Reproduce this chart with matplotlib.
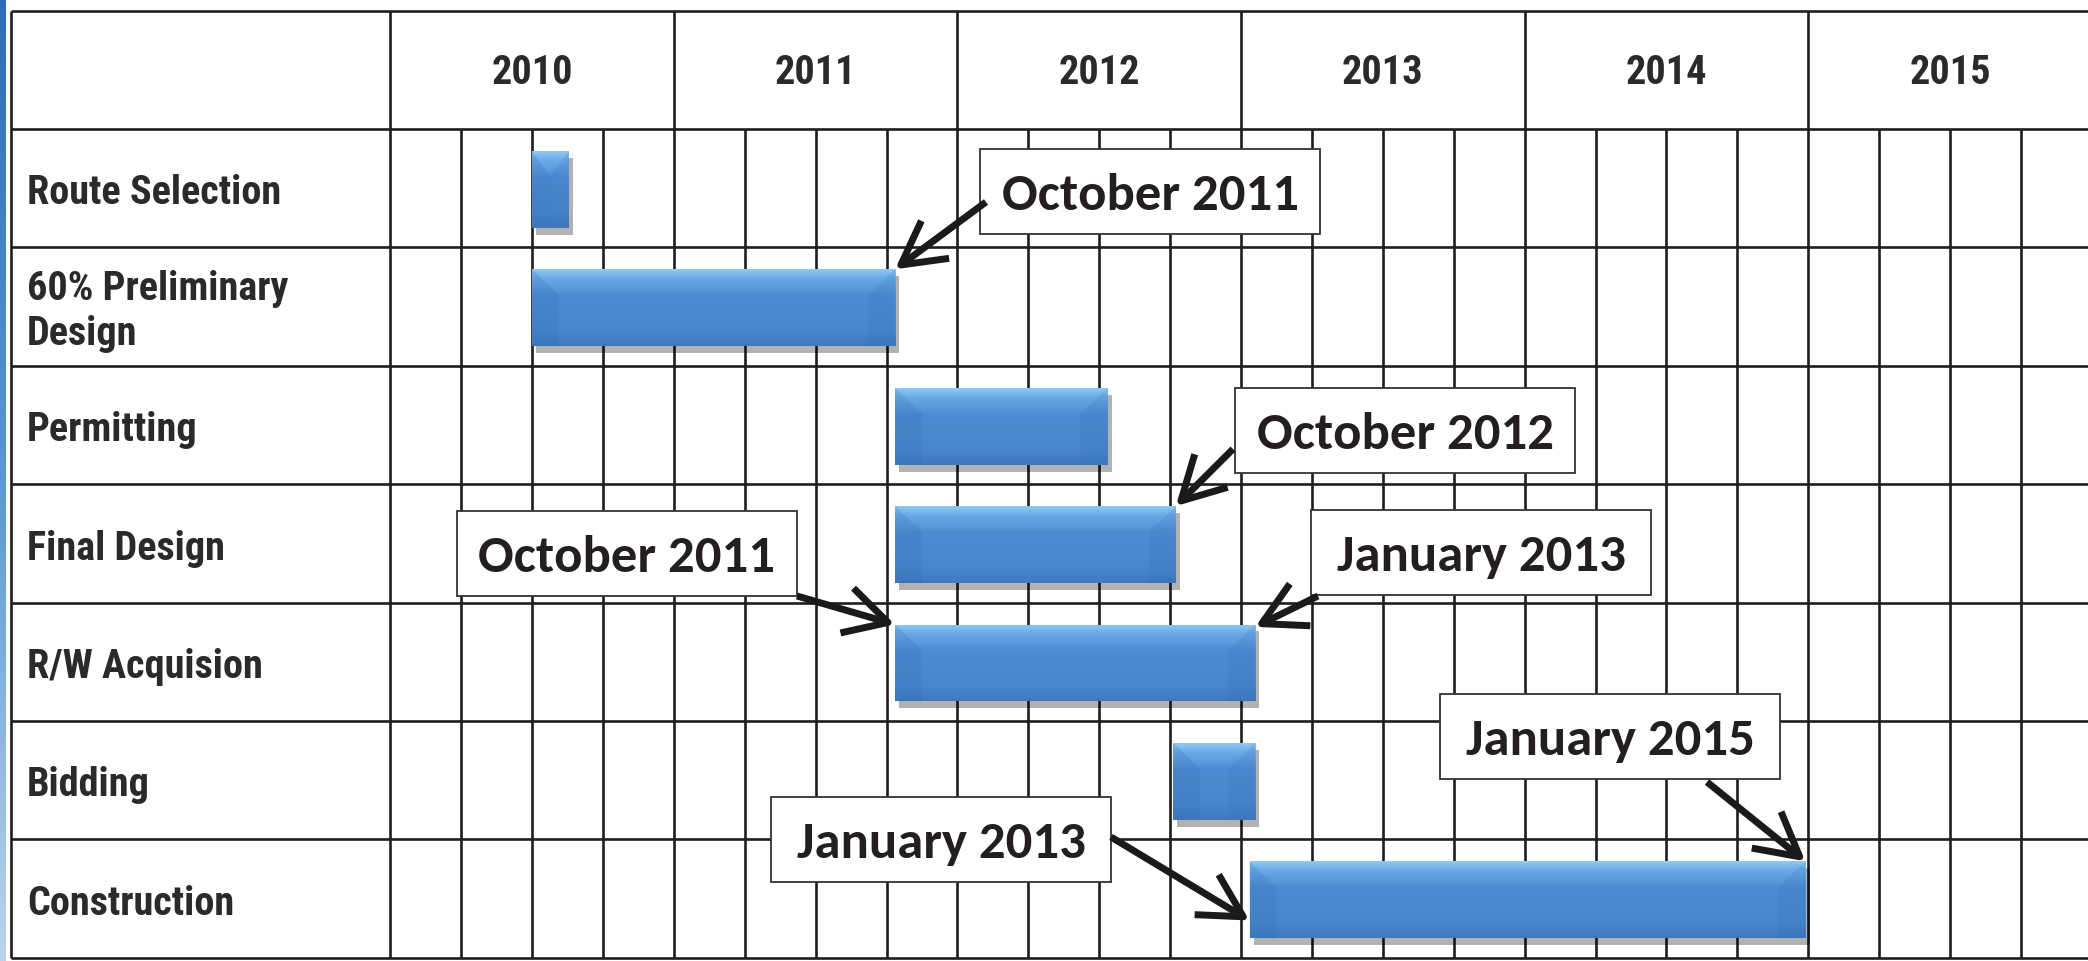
import numpy as np
import matplotlib
matplotlib.use('Agg')
import matplotlib.pyplot as plt
from matplotlib import font_manager
from matplotlib.patches import Rectangle, Polygon, FancyArrowPatch
from matplotlib.colors import LinearSegmentedColormap
import matplotlib.patheffects as pe

# ---------------- data ----------------
tasks = ["Route Selection", "60% Preliminary\nDesign", "Permitting", "Final Design",
         "R/W Acquision", "Bidding", "Construction"]
task_start = [2010.50, 2010.50, 2011.78, 2011.78, 2011.78, 2012.76, 2013.03]
task_end = [2010.63, 2011.78, 2012.53, 2012.77, 2013.05, 2013.05, 2014.99]
years = [2010, 2011, 2012, 2013, 2014, 2015]

ann_text = ["October 2011", "October 2012", "October 2011", "January 2013",
            "January 2015", "January 2013"]
ann_task = [1, 3, 4, 4, 6, 6]
ann_side = ["end", "end", "start", "end", "end", "start"]

# ---------------- layout ----------------
W, H = 2088, 962
fig = plt.figure(figsize=(W / 100, H / 100), dpi=100)
ax = fig.add_axes([0, 0, 1, 1])
ax.axis('off')

def fx(px):
    return 2010 + (px - 390.2) / 283.6

def fy(py):
    return (py - 130) / 118.4

XL, XR = fx(0), fx(W)
YT, YB = fy(0), fy(H)

avail = {f.name for f in font_manager.fontManager.ttflist}
def pick(cands):
    for c in cands:
        if c in avail:
            return c
    return 'DejaVu Sans'
cond = pick(['Roboto Condensed', 'Archivo Narrow', 'PT Sans Narrow', 'Liberation Sans Narrow'])
callout = pick(['Carlito', 'Lato', 'Open Sans'])

line_c = '#1e1e1e'
lw = 1.9
n = len(tasks)
x_left = fx(11)
table_top = -1.0
table_bot = float(n)

# horizontal lines
ax.hlines([table_top, 0] + list(range(1, n + 1)), x_left, XR, color=line_c, lw=lw, zorder=1)
# left border and label column
ax.vlines([x_left], table_top, table_bot, color=line_c, lw=lw, zorder=1)
# year lines (full height)
ax.vlines(years, table_top, table_bot, color=line_c, lw=lw, zorder=1)
# quarter lines (body only)
quarters = [y + q / 4 for y in years for q in (1, 2, 3)]
ax.vlines(quarters, 0, table_bot, color=line_c, lw=lw, zorder=1)

# year labels
for yv in years:
    ax.text(yv + 0.5, -0.48, str(yv), ha='center', va='center', fontsize=29,
            fontweight='bold', family=cond, color='#2a2a2a', zorder=2)

# task labels
for i, t in enumerate(tasks):
    ax.text(fx(27), i + 0.535, t, ha='left', va='center', fontsize=29, fontweight='bold',
            family=cond, color='#2a2a2a', linespacing=1.25, zorder=2)

# ---------------- bars ----------------
bar_off, bar_h = 0.185, 0.65
ys = [i + bar_off + bar_h / 2 for i in range(n)]
widths = [e - s for s, e in zip(task_start, task_end)]
bars = ax.barh(ys, widths, left=task_start, height=bar_h, color='#4a86cc',
               zorder=3,
               path_effects=[pe.SimplePatchShadow(offset=(3, -5), shadow_rgbFace='#000000', alpha=0.3),
                             pe.Normal()])

cmap = LinearSegmentedColormap.from_list('bev', [(0, '#8fc8f5'), (0.12, '#6aa9e6'),
                                                  (0.35, '#4d8bd2'), (0.8, '#4a86cc'),
                                                  (1, '#3f79bf')])
grad = np.linspace(0, 1, 100).reshape(-1, 1)
for b in bars:
    x0, y0, w, h = b.get_x(), b.get_y(), b.get_width(), b.get_height()
    im = ax.imshow(grad, extent=[x0, x0 + w, y0 + h, y0], aspect='auto', cmap=cmap,
                   zorder=4, interpolation='bicubic')
    im.set_clip_path(b)
    d = min(0.095, w / 2)
    dv = min(0.22, h * 0.35)
    left = Polygon([(x0, y0), (x0 + d, y0 + dv), (x0 + d, y0 + h), (x0, y0 + h)],
                   closed=True, facecolor='#2f6bb3', alpha=0.2, edgecolor='none', zorder=5)
    right = Polygon([(x0 + w, y0), (x0 + w - d, y0 + dv), (x0 + w - d, y0 + h), (x0 + w, y0 + h)],
                    closed=True, facecolor='#2f6bb3', alpha=0.16, edgecolor='none', zorder=5)
    ax.add_patch(left)
    ax.add_patch(right)

# ---------------- callouts ----------------
box_center = [(fx(1150), fy(192)), (fx(1405), fy(431)), (fx(627), fy(554)),
              (fx(1481), fy(553)), (fx(1610), fy(737)), (fx(941), fy(840))]
arrow_from = [(fx(986), fy(203)), (fx(1233), fy(450)), (fx(797), fy(597)),
              (fx(1318), fy(597)), (fx(1707), fy(783)), (fx(1111), fy(838))]
tip_dy = [0.0, 0.0, 0.0, 0.02, 0.0, 0.5]
box_w, box_h = 340 / 283.6, 85 / 118.4

for k, txt in enumerate(ann_text):
    cx, cy = box_center[k]
    ax.add_patch(Rectangle((cx - box_w / 2, cy - box_h / 2), box_w, box_h,
                           facecolor='white', edgecolor='#333333', lw=1.3, zorder=6))
    ax.text(cx, cy + 0.03, txt, ha='center', va='center', fontsize=38, fontweight='bold',
            family=callout, color='#231f20', zorder=7)
    bi = ann_task[k]
    b = bars[bi]
    tx = b.get_x() + (b.get_width() if ann_side[k] == 'end' else 0)
    ty = b.get_y() + tip_dy[k] * b.get_height() / 0.65
    arr = FancyArrowPatch(arrow_from[k], (tx, ty),
                          arrowstyle='->,head_length=1.1,head_width=0.6',
                          mutation_scale=28, lw=5, color='#1a1a1a',
                          shrinkA=0, shrinkB=0, zorder=8, capstyle='butt')
    ax.add_patch(arr)

ax.set_xlim(XL, XR)
ax.set_ylim(YB, YT)

# left blue strip
sax = fig.add_axes([0, 0, 6 / W, 1])
sax.axis('off')
scm = LinearSegmentedColormap.from_list('strip', ['#2c6db5', '#5b98d2', '#b9d3ec'])
sax.imshow(np.linspace(0, 1, 200).reshape(-1, 1), aspect='auto', cmap=scm,
           extent=[0, 1, 0, 1])

fig.savefig('out.png', dpi=100)
